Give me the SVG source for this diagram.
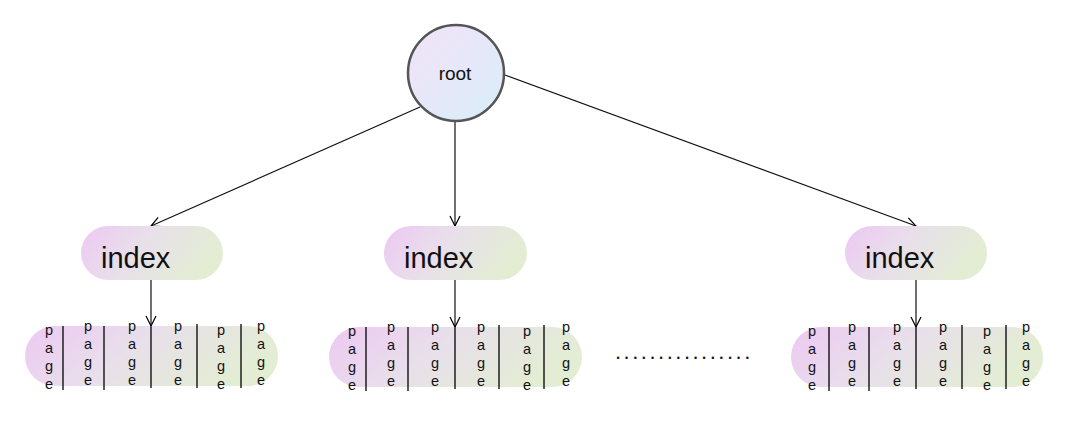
<svg xmlns="http://www.w3.org/2000/svg" width="1069" height="421" viewBox="0 0 1069 421">
<defs>
<linearGradient id="gRoot" x1="0" y1="0" x2="1" y2="1">
<stop offset="0" stop-color="#f2e2f7"/>
<stop offset="1" stop-color="#d9eefa"/>
</linearGradient>
<linearGradient id="gPill" x1="0" y1="0" x2="1" y2="0.3">
<stop offset="0" stop-color="#edc8f3"/>
<stop offset="0.5" stop-color="#e8e0ea"/>
<stop offset="1" stop-color="#e3edd3"/>
</linearGradient>
<marker id="arr" viewBox="0 0 12 12" refX="11" refY="6" markerWidth="12" markerHeight="12" markerUnits="userSpaceOnUse" orient="auto">
<path d="M1,1 L11,6 L1,11" fill="none" stroke="#000" stroke-width="1.2"/>
</marker>
</defs>
<style>
.lbl{font-family:"Liberation Sans",Arial,sans-serif;fill:#111}
.idx{font-size:29px}
.pg{font-size:14.5px;text-anchor:middle}
.div{stroke:#000;stroke-width:1.3}
.edge{stroke:#111;stroke-width:1.2;fill:none;marker-end:url(#arr)}
</style>
<rect width="1069" height="421" fill="#fff"/>

<g id="connectors">
<line class="edge" x1="420" y1="107" x2="151" y2="226"/>
<line class="edge" x1="455" y1="121" x2="455" y2="226"/>
<line class="edge" x1="505" y1="75" x2="916" y2="226"/>
<line class="edge" x1="151" y1="280" x2="151" y2="326"/>
<line class="edge" x1="455" y1="280" x2="455" y2="327"/>
<line class="edge" x1="916" y1="280" x2="916" y2="327"/>
</g>

<g id="root">
<circle cx="456" cy="73" r="48" fill="url(#gRoot)" stroke="#555" stroke-width="2.5"/>
<text class="lbl" x="455" y="80" font-size="19" text-anchor="middle">root</text>
</g>

<g id="index1">
<rect x="81" y="226" width="142" height="54" rx="27" fill="url(#gPill)"/>
<text class="lbl idx" x="101" y="268">index</text>
</g>
<g id="index2">
<rect x="384" y="226" width="143" height="54" rx="27" fill="url(#gPill)"/>
<text class="lbl idx" x="404" y="268">index</text>
</g>
<g id="index3">
<rect x="845" y="226" width="142" height="54" rx="27" fill="url(#gPill)"/>
<text class="lbl idx" x="865" y="268">index</text>
</g>

<g id="pages1">
<rect x="25" y="326" width="253" height="60" rx="30" fill="url(#gPill)"/>
<line class="div" x1="63" y1="326" x2="63" y2="390"/>
<line class="div" x1="104" y1="326" x2="104" y2="390"/>
<line class="div" x1="151" y1="325" x2="151" y2="388"/>
<line class="div" x1="197" y1="324" x2="197" y2="388"/>
<line class="div" x1="241" y1="324" x2="241" y2="388"/>
<text class="lbl pg"><tspan x="49" y="335">p</tspan><tspan x="49" dy="18">a</tspan><tspan x="49" dy="18">g</tspan><tspan x="49" dy="18">e</tspan></text>
<text class="lbl pg"><tspan x="88" y="331">p</tspan><tspan x="88" dy="18">a</tspan><tspan x="88" dy="18">g</tspan><tspan x="88" dy="18">e</tspan></text>
<text class="lbl pg"><tspan x="132" y="331">p</tspan><tspan x="132" dy="18">a</tspan><tspan x="132" dy="18">g</tspan><tspan x="132" dy="18">e</tspan></text>
<text class="lbl pg"><tspan x="178" y="331">p</tspan><tspan x="178" dy="18">a</tspan><tspan x="178" dy="18">g</tspan><tspan x="178" dy="18">e</tspan></text>
<text class="lbl pg"><tspan x="221" y="335">p</tspan><tspan x="221" dy="18">a</tspan><tspan x="221" dy="18">g</tspan><tspan x="221" dy="18">e</tspan></text>
<text class="lbl pg"><tspan x="261" y="331">p</tspan><tspan x="261" dy="18">a</tspan><tspan x="261" dy="18">g</tspan><tspan x="261" dy="18">e</tspan></text>
</g>

<g id="pages2">
<rect x="329" y="327" width="253" height="60" rx="30" fill="url(#gPill)"/>
<line class="div" x1="366" y1="327" x2="366" y2="391"/>
<line class="div" x1="408" y1="327" x2="408" y2="391"/>
<line class="div" x1="455" y1="326" x2="455" y2="389"/>
<line class="div" x1="499" y1="325" x2="499" y2="389"/>
<line class="div" x1="544" y1="325" x2="544" y2="389"/>
<text class="lbl pg"><tspan x="352" y="336">p</tspan><tspan x="352" dy="18">a</tspan><tspan x="352" dy="18">g</tspan><tspan x="352" dy="18">e</tspan></text>
<text class="lbl pg"><tspan x="391" y="332">p</tspan><tspan x="391" dy="18">a</tspan><tspan x="391" dy="18">g</tspan><tspan x="391" dy="18">e</tspan></text>
<text class="lbl pg"><tspan x="435" y="332">p</tspan><tspan x="435" dy="18">a</tspan><tspan x="435" dy="18">g</tspan><tspan x="435" dy="18">e</tspan></text>
<text class="lbl pg"><tspan x="481" y="332">p</tspan><tspan x="481" dy="18">a</tspan><tspan x="481" dy="18">g</tspan><tspan x="481" dy="18">e</tspan></text>
<text class="lbl pg"><tspan x="527" y="336">p</tspan><tspan x="527" dy="18">a</tspan><tspan x="527" dy="18">g</tspan><tspan x="527" dy="18">e</tspan></text>
<text class="lbl pg"><tspan x="566" y="332">p</tspan><tspan x="566" dy="18">a</tspan><tspan x="566" dy="18">g</tspan><tspan x="566" dy="18">e</tspan></text>
</g>

<text class="lbl" x="615" y="359" font-size="22" letter-spacing="2.5">................</text>

<g id="pages3">
<rect x="791" y="327" width="252" height="60" rx="30" fill="url(#gPill)"/>
<line class="div" x1="829" y1="327" x2="829" y2="391"/>
<line class="div" x1="869" y1="327" x2="869" y2="391"/>
<line class="div" x1="916" y1="326" x2="916" y2="389"/>
<line class="div" x1="962" y1="325" x2="962" y2="389"/>
<line class="div" x1="1006" y1="325" x2="1006" y2="389"/>
<text class="lbl pg"><tspan x="812" y="336">p</tspan><tspan x="812" dy="18">a</tspan><tspan x="812" dy="18">g</tspan><tspan x="812" dy="18">e</tspan></text>
<text class="lbl pg"><tspan x="852" y="332">p</tspan><tspan x="852" dy="18">a</tspan><tspan x="852" dy="18">g</tspan><tspan x="852" dy="18">e</tspan></text>
<text class="lbl pg"><tspan x="897" y="332">p</tspan><tspan x="897" dy="18">a</tspan><tspan x="897" dy="18">g</tspan><tspan x="897" dy="18">e</tspan></text>
<text class="lbl pg"><tspan x="943" y="332">p</tspan><tspan x="943" dy="18">a</tspan><tspan x="943" dy="18">g</tspan><tspan x="943" dy="18">e</tspan></text>
<text class="lbl pg"><tspan x="987" y="336">p</tspan><tspan x="987" dy="18">a</tspan><tspan x="987" dy="18">g</tspan><tspan x="987" dy="18">e</tspan></text>
<text class="lbl pg"><tspan x="1026" y="332">p</tspan><tspan x="1026" dy="18">a</tspan><tspan x="1026" dy="18">g</tspan><tspan x="1026" dy="18">e</tspan></text>
</g>
</svg>
